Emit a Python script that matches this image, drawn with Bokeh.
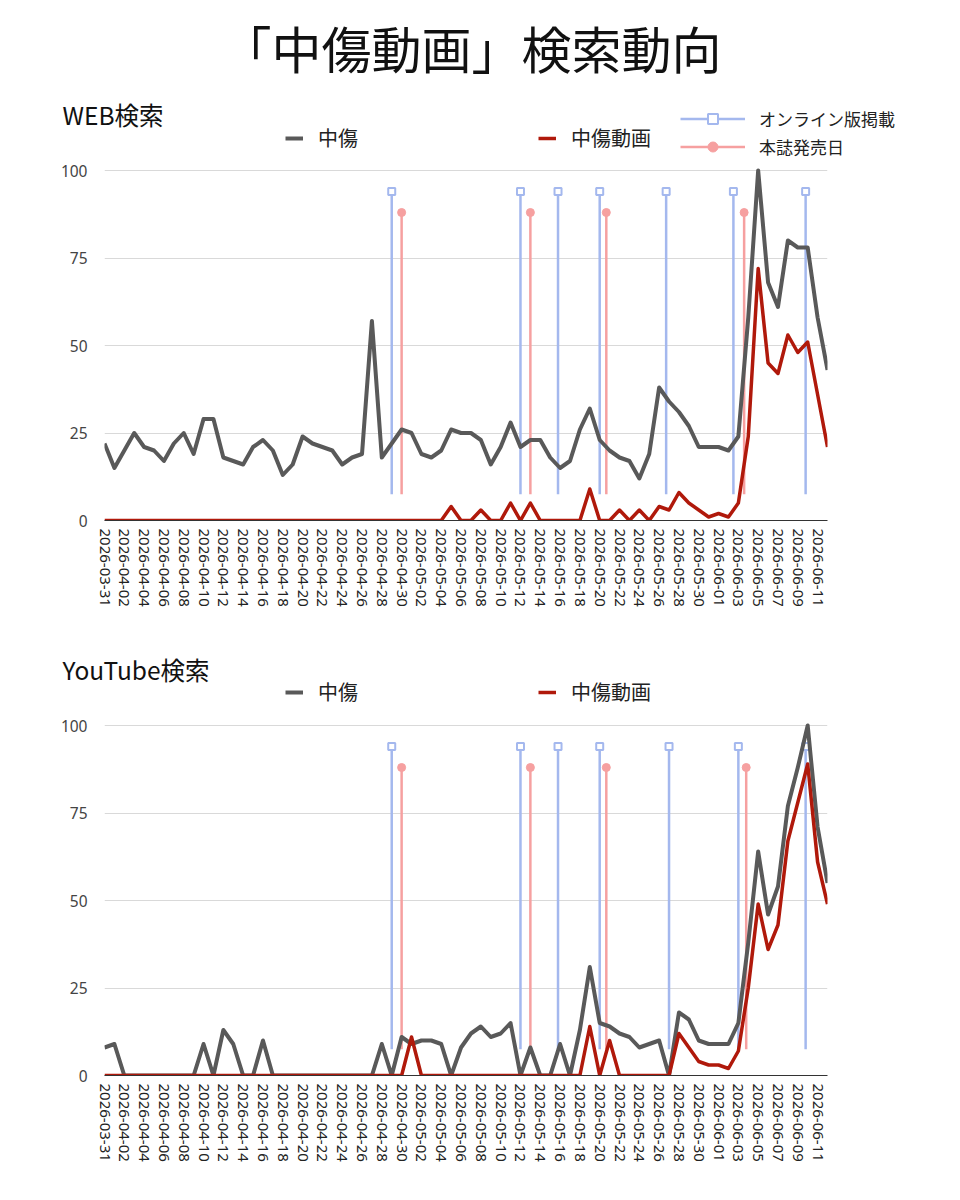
import math
import pandas as pd
from bokeh.plotting import figure
from bokeh.models import (ColumnDataSource, FixedTicker, Range1d, Label, Legend,
                          LegendItem, DatetimeTickFormatter)
from bokeh.layouts import column, row
from bokeh.embed import file_html
from bokeh.resources import INLINE

# ---------------- data ----------------
START_DATE = "2026-03-31"
END_DATE = "2026-06-12"
dates = pd.date_range(START_DATE, END_DATE, freq="D")

web_chusho = [22, 15, 20, 25, 21, 20, 17, 22, 25, 19,
              29, 29, 18, 17, 16, 21, 23, 20, 13, 16,
              24, 22, 21, 20, 16, 18, 19, 57, 18, 22,
              26, 25, 19, 18, 20, 26, 25, 25, 23, 16,
              21, 28, 21, 23, 23, 18, 15, 17, 26, 32,
              23, 20, 18, 17, 12, 19, 38, 34, 31, 27,
              21, 21, 21, 20, 24, 58, 100, 68, 61, 80,
              78, 78, 58, 43]
web_douga = [0, 0, 0, 0, 0, 0, 0, 0, 0, 0,
             0, 0, 0, 0, 0, 0, 0, 0, 0, 0,
             0, 0, 0, 0, 0, 0, 0, 0, 0, 0,
             0, 0, 0, 0, 0, 4, 0, 0, 3, 0,
             0, 5, 0, 5, 0, 0, 0, 0, 0, 9,
             0, 0, 3, 0, 3, 0, 4, 3, 8, 5,
             3, 1, 2, 1, 5, 24, 72, 45, 42, 53,
             48, 51, 36, 21]
yt_chusho = [8, 9, 0, 0, 0, 0, 0, 0, 0, 0,
             9, 0, 13, 9, 0, 0, 10, 0, 0, 0,
             0, 0, 0, 0, 0, 0, 0, 0, 9, 0,
             11, 9, 10, 10, 9, 0, 8, 12, 14, 11,
             12, 15, 0, 8, 0, 0, 9, 0, 13, 31,
             15, 14, 12, 11, 8, 9, 10, 0, 18, 16,
             10, 9, 9, 9, 15, 38, 64, 46, 54, 77,
             88, 100, 71, 55]
yt_douga = [0, 0, 0, 0, 0, 0, 0, 0, 0, 0,
            0, 0, 0, 0, 0, 0, 0, 0, 0, 0,
            0, 0, 0, 0, 0, 0, 0, 0, 0, 0,
            0, 11, 0, 0, 0, 0, 0, 0, 0, 0,
            0, 0, 0, 0, 0, 0, 0, 0, 0, 14,
            0, 10, 0, 0, 0, 0, 0, 0, 12, 8,
            4, 3, 3, 2, 7, 25, 49, 36, 43, 67,
            78, 89, 61, 49]

# event dates (online publication / print issue release)
web_online = ["2026-04-29 00:00", "2026-05-12 00:00", "2026-05-15 19:00", "2026-05-20 00:00",
              "2026-05-26 17:00", "2026-06-02 12:00", "2026-06-09 19:00"]
web_print = ["2026-04-30 00:00", "2026-05-13 00:00", "2026-05-20 16:00", "2026-06-03 14:00"]
yt_online = ["2026-04-29 00:00", "2026-05-12 00:00", "2026-05-15 19:00", "2026-05-20 00:00",
             "2026-05-27 00:00", "2026-06-03 00:00", "2026-06-09 19:00"]
yt_print = ["2026-04-30 00:00", "2026-05-13 00:00", "2026-05-20 16:00", "2026-06-03 19:00"]

EVENT_LOW = 7.5
ONLINE_TOP = 94
PRINT_TOP = 88

y_ticks = [0, 25, 50, 75, 100]
x_tick_dates = dates[::2]

SERIES_NAMES = ["中傷", "中傷動画"]
EVENT_NAMES = ["オンライン版掲載", "本誌発売日"]
MAIN_TITLE = "「中傷動画」検索動向"
SUBTITLES = ["WEB検索", "YouTube検索"]

# ---------------- style ----------------
GRAY = "#595959"
RED = "#b0190b"
BLUE = "#a4b8ee"
PINK = "#f6a0a0"
JP = "Noto Sans CJK JP"
NUM = "Noto Sans"
W = 952
NAN = [float("nan")]
FRAME_H = 361
PX_PER_UNIT = 3.5


def make_header(height, subtitle, sub_y, legend_bottom, title=None, events=False):
    h = figure(width=W, height=height, x_range=Range1d(0, W), y_range=Range1d(height, 0),
               x_axis_location=None, y_axis_location=None, title=None,
               min_border_left=0, min_border_right=0, min_border_top=0, min_border_bottom=0,
               toolbar_location=None, output_backend="svg")
    h.outline_line_color = None
    h.grid.visible = False
    # legend keys (no data shown)
    g = h.line(x=NAN, y=NAN, line_color=GRAY, line_width=4)
    r = h.line(x=NAN, y=NAN, line_color=RED, line_width=3.5)
    leg = Legend(items=[LegendItem(label=SERIES_NAMES[0], renderers=[g]),
                        LegendItem(label=SERIES_NAMES[1], renderers=[r])],
                 orientation="horizontal", location=(285, legend_bottom), spacing=180,
                 glyph_width=18, glyph_height=22, label_height=22, label_standoff=15,
                 padding=0, margin=0, border_line_color=None, background_fill_alpha=0,
                 label_text_font=JP, label_text_font_size="20px", label_text_color="#222222")
    h.add_layout(leg, "center")
    if events:
        bl = h.line(x=NAN, y=NAN, line_color=BLUE, line_width=2.5)
        bm = h.scatter(x=NAN, y=NAN, marker="square", size=7, line_color=BLUE,
                       fill_color="white", line_width=2)
        pl = h.line(x=NAN, y=NAN, line_color=PINK, line_width=2.5)
        pm = h.scatter(x=NAN, y=NAN, marker="circle", size=8, line_color=PINK, fill_color=PINK)
        leg2 = Legend(items=[LegendItem(label=EVENT_NAMES[0], renderers=[bl, bm]),
                             LegendItem(label=EVENT_NAMES[1], renderers=[pl, pm])],
                      orientation="vertical", location=(680, 0), spacing=3,
                      glyph_width=65, glyph_height=25, label_height=25, label_standoff=14,
                      padding=0, margin=0, border_line_color=None, background_fill_alpha=0,
                      label_text_font=JP, label_text_font_size="17px",
                      label_text_color="#222222")
        h.add_layout(leg2, "center")
    h.add_layout(Label(x=62, y=sub_y, text=subtitle, text_font=JP, text_font_size="24.5px",
                       text_color="#111111", text_baseline="middle", text_align="left"))
    if title:
        h.add_layout(Label(x=471, y=46, text=title, text_font=JP, text_font_size="50px",
                           text_color="#111111", text_baseline="middle", text_align="center"))
    return h


def make_panel(chusho, douga, online, printed, bottom_border):
    p = figure(x_axis_type="datetime", frame_width=723, frame_height=FRAME_H,
               min_border_left=104, min_border_right=125,
               min_border_top=0, min_border_bottom=bottom_border,
               x_range=Range1d(dates[0].to_pydatetime(), dates[-1].to_pydatetime()),
               y_range=Range1d(0, FRAME_H / PX_PER_UNIT), title=None,
               toolbar_location=None, output_backend="svg")
    p.outline_line_color = None

    p.xaxis.ticker = FixedTicker(ticks=[d.value / 1e6 for d in x_tick_dates])
    fmt = "%Y-%m-%d"
    p.xaxis.formatter = DatetimeTickFormatter(
        microseconds=fmt, milliseconds=fmt, seconds=fmt, minsec=fmt, minutes=fmt,
        hourmin=fmt, hours=fmt, days=fmt, months=fmt, years=fmt)
    p.xaxis.major_label_orientation = -math.pi / 2
    p.xaxis.major_label_text_font = NUM
    p.xaxis.major_label_text_font_size = "15px"
    p.xaxis.major_label_text_color = "#222222"
    p.xaxis.major_tick_line_color = None
    p.xaxis.minor_tick_line_color = None
    p.xaxis.major_tick_out = 0
    p.xaxis.major_tick_in = 0
    p.xaxis.axis_line_color = "#333333"
    p.xaxis.major_label_standoff = 8
    p.xgrid.grid_line_color = None

    p.yaxis.ticker = FixedTicker(ticks=y_ticks)
    p.yaxis.axis_line_color = None
    p.yaxis.major_tick_line_color = None
    p.yaxis.minor_tick_line_color = None
    p.yaxis.major_tick_out = 0
    p.yaxis.major_tick_in = 0
    p.yaxis.major_label_standoff = 17
    p.yaxis.major_label_text_font = NUM
    p.yaxis.major_label_text_font_size = "15.5px"
    p.yaxis.major_label_text_color = "#444444"
    p.ygrid.grid_line_color = "#d9d9d9"
    p.ygrid.grid_line_width = 1

    on_x = pd.to_datetime(online)
    pr_x = pd.to_datetime(printed)
    on_src = ColumnDataSource(dict(x=on_x, y0=[EVENT_LOW] * len(on_x), y1=[ONLINE_TOP] * len(on_x)))
    pr_src = ColumnDataSource(dict(x=pr_x, y0=[EVENT_LOW] * len(pr_x), y1=[PRINT_TOP] * len(pr_x)))
    p.segment(x0="x", y0="y0", x1="x", y1="y1", source=on_src, line_color=BLUE, line_width=2.5)
    p.scatter(x="x", y="y1", source=on_src, marker="square", size=7,
              line_color=BLUE, fill_color="white", line_width=2)
    p.segment(x0="x", y0="y0", x1="x", y1="y1", source=pr_src, line_color=PINK, line_width=2.5)
    p.scatter(x="x", y="y1", source=pr_src, marker="circle", size=8,
              line_color=PINK, fill_color=PINK)

    src = ColumnDataSource(dict(date=dates, chusho=chusho, douga=douga))
    p.line("date", "chusho", source=src, line_color=GRAY, line_width=4, line_join="round")
    p.line("date", "douga", source=src, line_color=RED, line_width=3.5, line_join="round")
    return p


h1 = make_header(159, SUBTITLES[0], 114, 7, title=MAIN_TITLE, events=True)
p1 = make_panel(web_chusho, web_douga, web_online, web_print, 120)
h2 = make_header(74, SUBTITLES[1], 29, 8)
p2 = make_panel(yt_chusho, yt_douga, yt_online, yt_print, 117)

layout = column(row(h1), row(p1), row(h2), row(p2), spacing=0)
open("out.html", "w").write(file_html(layout, INLINE))
